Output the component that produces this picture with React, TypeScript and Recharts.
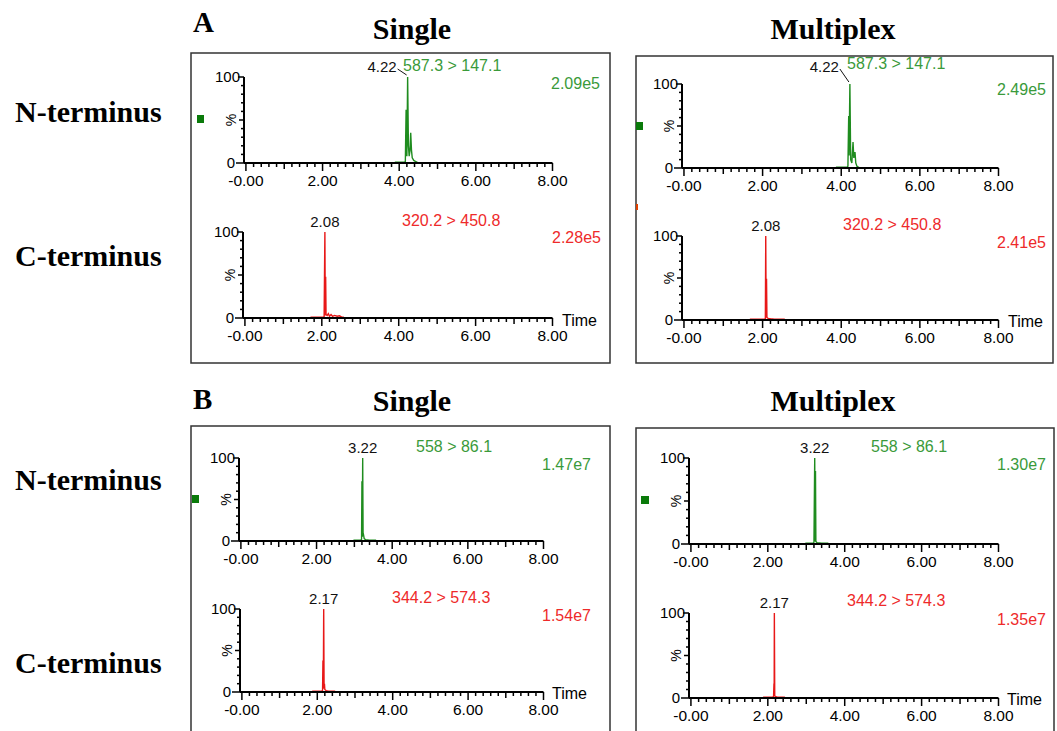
import React from 'react'
import { LineChart, Line, XAxis, YAxis, ReferenceDot } from 'recharts'

// chromatogram traces, [time (min), relative intensity (%)]
const A_SINGLE_N = [
  [3.88, 0], [3.9, 1], [4.14, 1], [4.16, 1.5], [4.18, 62], [4.19, 20], [4.2, 8], [4.22, 100],
  [4.24, 20], [4.26, 8], [4.28, 14], [4.3, 35], [4.32, 15], [4.34, 6], [4.38, 3], [4.42, 2],
  [4.46, 1], [4.5, 0],
]
const A_SINGLE_C = [
  [1.7, 0], [1.72, 1], [2.04, 1], [2.06, 1.5], [2.08, 100], [2.09, 3], [2.1, 48], [2.11, 4],
  [2.14, 3], [2.17, 5], [2.2, 2], [2.24, 4], [2.28, 2], [2.33, 3], [2.4, 2], [2.46, 2.5],
  [2.52, 1], [2.56, 1], [2.58, 0],
]
const A_MULTI_N = [
  [3.86, 0], [3.88, 1], [4.15, 1], [4.17, 2], [4.19, 62], [4.2, 15], [4.22, 100], [4.24, 10],
  [4.27, 6], [4.3, 31], [4.32, 12], [4.35, 19], [4.37, 6], [4.4, 2], [4.48, 0],
]
const A_MULTI_C = [
  [1.67, 0], [1.69, 1], [2.05, 1], [2.07, 1.5], [2.08, 100], [2.09, 3], [2.1, 49], [2.11, 3],
  [2.14, 2], [2.2, 1.5], [2.3, 1], [2.45, 1], [2.55, 1], [2.57, 0],
]
const B_SINGLE_N = [
  [2.97, 0], [2.99, 1], [3.17, 1], [3.19, 2], [3.2, 72], [3.21, 5], [3.22, 100], [3.23, 10],
  [3.24, 8], [3.26, 3], [3.3, 1.5], [3.4, 1], [3.5, 1], [3.56, 1], [3.58, 0],
]
const B_SINGLE_C = [
  [1.86, 0], [1.88, 1], [2.12, 1], [2.14, 2], [2.15, 38], [2.16, 4], [2.17, 100], [2.18, 8],
  [2.19, 10], [2.2, 3], [2.24, 1.5], [2.3, 1], [2.4, 1], [2.46, 1], [2.48, 0],
]
const B_MULTI_N = [
  [2.97, 0], [2.99, 1], [3.18, 1], [3.2, 2], [3.22, 100], [3.23, 3], [3.24, 85], [3.25, 3],
  [3.28, 1.5], [3.4, 1], [3.5, 1], [3.56, 1], [3.58, 0],
]
const B_MULTI_C = [
  [1.87, 0], [1.89, 1], [2.13, 1], [2.15, 2], [2.16, 17], [2.165, 3], [2.17, 100], [2.18, 3],
  [2.19, 2], [2.25, 1], [2.35, 1], [2.43, 1], [2.45, 0],
]

const PEAK_RT = [4.22, 2.08, 4.22, 2.08, 3.22, 2.17, 3.22, 2.17]
const TRANSITIONS = [
  '587.3 > 147.1', '320.2 > 450.8', '587.3 > 147.1', '320.2 > 450.8',
  '558 > 86.1', '344.2 > 574.3', '558 > 86.1', '344.2 > 574.3',
]
const INTENSITIES = ['2.09e5', '2.28e5', '2.49e5', '2.41e5', '1.47e7', '1.54e7', '1.30e7', '1.35e7']

const X_TICKS = Array.from({ length: 41 }, (_, i) => i / 5)
const Y_TICKS = [0, 10, 20, 30, 40, 50, 60, 70, 80, 90, 100]

const GREEN = '#1f8c1f'
const GREEN_TEXT = '#3a9a3a'
const RED = '#e81818'
const RED_TEXT = '#ee2a2a'
const SANS = '"Liberation Sans", Arial, sans-serif'
const SERIF = '"Liberation Serif", "Times New Roman", serif'

const YW = 50
const MT = 40
const MR = 70
const XH = 32

// plot rectangles and annotation spots, in page pixels
const PANELS = [
  { data: A_SINGLE_N, xL: 243.5, xR: 552, yT: 77, yB: 163, green: true, trans: [403, 71], scale: [551, 89], leader: 5 },
  { data: A_SINGLE_C, xL: 242.5, xR: 552, yT: 232, yB: 318, green: false, trans: [402, 226], scale: [552, 243], time: [562, 326] },
  { data: A_MULTI_N, xL: 682, xR: 998.5, yT: 84, yB: 168, green: true, trans: [847, 69], scale: [997, 95], leader: 12 },
  { data: A_MULTI_C, xL: 682, xR: 998.5, yT: 236, yB: 320, green: false, trans: [843, 230], scale: [997, 248], time: [1008, 327] },
  { data: B_SINGLE_N, xL: 238.5, xR: 543, yT: 458, yB: 541, green: true, trans: [416, 452], scale: [542, 470] },
  { data: B_SINGLE_C, xL: 239.5, xR: 543, yT: 609, yB: 692, green: false, trans: [392, 603], scale: [542, 621], time: [552, 699] },
  { data: B_MULTI_N, xL: 689, xR: 998.5, yT: 458, yB: 544, green: true, trans: [871, 452], scale: [997, 470] },
  { data: B_MULTI_C, xL: 689, xR: 998.5, yT: 613, yB: 698, green: false, trans: [847, 606], scale: [997, 625], time: [1007, 705] },
]

const XTick = (props: any) => {
  const { x, y, payload } = props
  const v = Math.round(payload.value * 10) / 10
  const major = Math.abs(v % 2) < 1e-6
  const mid = !major && Math.abs(v % 1) < 1e-6
  const len = major ? 8 : mid ? 6 : 4
  return (
    <g>
      <line x1={x} y1={y} x2={x} y2={y + len} stroke="#000" strokeWidth={1.5} />
      {major && (
        <text x={x} y={y + 23} textAnchor="middle" fontSize={15.5} fontFamily={SANS} fill="#000">
          {v === 0 ? '-0.00' : v.toFixed(2)}
        </text>
      )}
    </g>
  )
}

const YTick = (props: any) => {
  const { x, y, payload } = props
  const v = payload.value
  const len = v === 0 ? 8 : v === 100 ? 6 : v === 50 ? 5 : 3
  return (
    <g>
      <line x1={x - len} y1={y} x2={x} y2={y} stroke="#000" strokeWidth={1.5} />
      {(v === 0 || v === 100) && (
        <text x={v === 0 ? x - 9 : x - 4} y={y} dy="0.35em" textAnchor="end" fontSize={15} fontFamily={SANS} fill="#000">
          {v}
        </text>
      )}
      {v === 50 && (
        <text x={x - 13} y={y} dy="0.35em" textAnchor="middle" fontSize={14} fontFamily={SANS} fill="#000"
          transform={`rotate(-90 ${x - 13} ${y})`}>
          %
        </text>
      )}
    </g>
  )
}

const PeakLabel = (props: any) => {
  const { viewBox, text, leader } = props
  const cx = viewBox.x + viewBox.width / 2
  const cy = viewBox.y + viewBox.height / 2
  if (leader) {
    return (
      <g>
        <text x={cx - 11} y={cy - leader} textAnchor="end" fontSize={15} fontFamily={SANS} fill="#111">{text}</text>
        <line x1={cx - 10} y1={cy - leader - 3} x2={cx - 1} y2={cy - 2} stroke="#111" strokeWidth={1} />
      </g>
    )
  }
  return (
    <text x={cx} y={cy - 5} textAnchor="middle" fontSize={15} fontFamily={SANS} fill="#111">{text}</text>
  )
}

const Chromatogram = ({ panel, index }: { panel: any; index: number }) => {
  const rows = panel.data.map((d: number[]) => ({ t: d[0], v: d[1] }))
  const w = panel.xR - panel.xL + YW + MR
  const h = panel.yB - panel.yT + MT + XH
  const axisLine = { stroke: '#000', strokeWidth: 2 }
  return (
    <div style={{ position: 'absolute', left: panel.xL - YW, top: panel.yT - MT }}>
      <LineChart width={w} height={h} data={rows} margin={{ top: MT, right: MR, bottom: 0, left: 0 }}>
        <XAxis type="number" dataKey="t" domain={[-0.05, 8]} ticks={X_TICKS} interval={0} allowDataOverflow
          tickSize={0} tickMargin={0} tickLine={false} axisLine={axisLine} tick={<XTick />} height={XH} />
        <YAxis type="number" domain={[0, 100]} ticks={Y_TICKS} interval={0}
          tickSize={0} tickMargin={0} tickLine={false} axisLine={axisLine} tick={<YTick />} width={YW} />
        <Line type="linear" dataKey="v" stroke={panel.green ? GREEN : RED} strokeWidth={1.4}
          dot={false} activeDot={false} isAnimationActive={false} />
        <ReferenceDot x={PEAK_RT[index]} y={100} r={1} fill="none" stroke="none" ifOverflow="visible"
          label={<PeakLabel text={PEAK_RT[index].toFixed(2)} leader={panel.leader} />} />
      </LineChart>
    </div>
  )
}

export default function App() {
  return (
    <div style={{ position: 'absolute', left: 0, top: 0, width: 1057, height: 731, background: '#fff', overflow: 'hidden' }}>
      <svg width={1057} height={731} style={{ position: 'absolute', left: 0, top: 0 }}>
        <rect x={191} y={53} width={419} height={310} fill="none" stroke="#333" strokeWidth={1.5} />
        <rect x={636} y={56} width={417} height={307} fill="none" stroke="#333" strokeWidth={1.5} />
        <rect x={191} y={426} width={419} height={320} fill="none" stroke="#333" strokeWidth={1.5} />
        <rect x={636} y={428} width={418} height={320} fill="none" stroke="#333" strokeWidth={1.5} />

        <g fontFamily={SERIF} fontWeight="bold" fill="#000">
          <text x={193} y={32} fontSize={29}>A</text>
          <text x={193} y={409} fontSize={29}>B</text>
          <text x={412} y={39} fontSize={30} textAnchor="middle">Single</text>
          <text x={833} y={39} fontSize={30} textAnchor="middle">Multiplex</text>
          <text x={412} y={411} fontSize={30} textAnchor="middle">Single</text>
          <text x={833} y={411} fontSize={30} textAnchor="middle">Multiplex</text>
          <text x={15} y={122} fontSize={30}>N-terminus</text>
          <text x={15} y={266} fontSize={30}>C-terminus</text>
          <text x={15} y={490} fontSize={30}>N-terminus</text>
          <text x={15} y={673} fontSize={30}>C-terminus</text>
        </g>

        <rect x={197} y={115} width={7} height={8} fill="#0a7a0a" />
        <rect x={636} y={122} width={7} height={8} fill="#0a7a0a" />
        <rect x={192} y={495} width={7} height={8} fill="#0a7a0a" />
        <rect x={641} y={496} width={8} height={8} fill="#0a7a0a" />
        <rect x={636} y={204} width={2} height={6} fill="#e04000" />

        <g fontFamily={SANS} fontSize={16}>
          {PANELS.map((p, i) => (
            <g key={i} fill={p.green ? GREEN_TEXT : RED_TEXT}>
              <text x={p.trans[0]} y={p.trans[1]}>{TRANSITIONS[i]}</text>
              <text x={p.scale[0]} y={p.scale[1]}>{INTENSITIES[i]}</text>
            </g>
          ))}
          {PANELS.filter((p) => p.time).map((p, i) => (
            <text key={i} x={p.time![0]} y={p.time![1]} fill="#000">Time</text>
          ))}
        </g>
      </svg>
      {PANELS.map((p, i) => (
        <Chromatogram key={i} panel={p} index={i} />
      ))}
    </div>
  )
}
